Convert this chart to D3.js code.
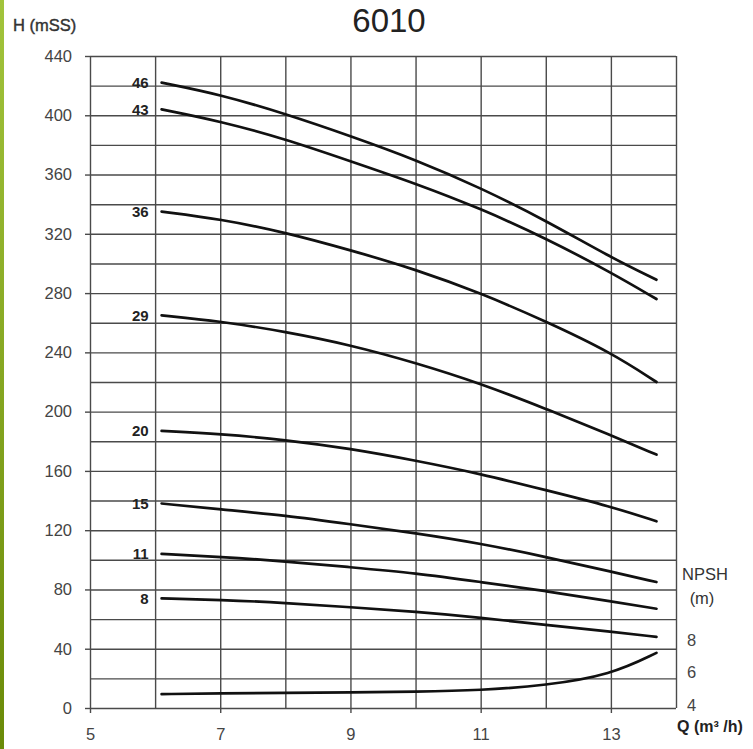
<!DOCTYPE html>
<html>
<head>
<meta charset="utf-8">
<script src="https://cdn.jsdelivr.net/npm/d3@7"></script>
<style>
  body { margin: 0; background: #fff; }
  text { font-family: "Liberation Sans", Arial, sans-serif; }
</style>
</head>
<body>
<div id="chart"></div>
<script>
// Dados
const qPoints = [6.1, 7, 8, 9, 10, 11, 12, 13, 13.7];
const stages = [46, 43, 36, 29, 20, 15, 11, 8];
const head46 = [422, 414, 401, 386, 370, 351, 329, 304, 289];
const head43 = [404, 396, 384, 369, 354, 337, 317, 294, 276];
const head36 = [335, 330, 321, 309, 296, 280, 261, 240, 220];
const head29 = [265, 261, 254, 245, 233, 219, 202, 184, 171];
const head20 = [187, 185, 181, 175, 167, 158, 147, 136, 126];
const head15 = [138, 134, 130, 124, 118, 111, 102, 92, 85];
const head11 = [104, 102, 99, 95, 91, 85, 79, 72, 67];
const head8 = [74, 73, 71, 68, 65, 61, 56, 51.5, 48];
const npsh = [4.67, 4.72, 4.75, 4.78, 4.82, 4.9, 5.2, 5.85, 7.2];
const heads = [head46, head43, head36, head29, head20, head15, head11, head8];

const yTicks = [0, 40, 80, 120, 160, 200, 240, 280, 320, 360, 400, 440];
const xTicks = [5, 7, 9, 11, 13];
const npshTicks = [4, 6, 8];

// Configurações
const W = 753, H = 749;
const margin = { top: 56, right: 77, bottom: 41, left: 90 };
const width = W - margin.left - margin.right;
const height = H - margin.top - margin.bottom;

const root = d3.select("#chart").append("svg")
    .attr("width", W)
    .attr("height", H);

// barra verde à esquerda
const grad = root.append("defs").append("linearGradient")
    .attr("id", "green").attr("x1", 0).attr("y1", 0).attr("x2", 0).attr("y2", 1);
grad.append("stop").attr("offset", "0%").attr("stop-color", "#a2c43c");
grad.append("stop").attr("offset", "100%").attr("stop-color", "#6a8a08");
root.append("rect").attr("x", 0).attr("y", 0).attr("width", 4).attr("height", H)
    .attr("fill", "url(#green)");

const svg = root.append("g")
    .attr("transform", `translate(${margin.left},${margin.top})`);

// Escalas
const x = d3.scaleLinear().domain([5, 14]).range([0, width]);
const y = d3.scaleLinear().domain([0, 440]).range([height, 0]);
const y2 = d3.scaleLinear().domain([4, 8]).range([y(2), y(46)]);

// Grade
const gridColor = "#4a4a4a";
svg.append("g")
    .call(d3.axisLeft(y).tickValues(d3.range(0, 441, 20)).tickSize(-width).tickFormat(""))
    .call(g => g.select(".domain").remove())
    .selectAll("line").attr("stroke", gridColor).attr("stroke-width", 1.4);
svg.append("g")
    .attr("transform", `translate(0,${height})`)
    .call(d3.axisBottom(x).tickValues(d3.range(5, 14.01, 1)).tickSize(height).tickFormat(""))
    .call(g => g.select(".domain").remove())
    .selectAll("line").attr("stroke", gridColor).attr("stroke-width", 1.4)
    .attr("y2", -height);

// Eixos
svg.append("g")
    .call(d3.axisLeft(y).tickValues(yTicks).tickSize(5).tickPadding(13))
    .call(g => g.select(".domain").remove())
    .call(g => g.selectAll("line").attr("stroke", gridColor).attr("stroke-width", 1.4))
    .call(g => g.selectAll("text").attr("fill", "#444").style("font-size", "16.5px"));

svg.append("g")
    .attr("transform", `translate(0,${height})`)
    .call(d3.axisBottom(x).tickValues(xTicks).tickSize(5).tickPadding(15))
    .call(g => g.select(".domain").remove())
    .call(g => g.selectAll("line").attr("stroke", gridColor).attr("stroke-width", 1.4))
    .call(g => g.selectAll("text").attr("fill", "#444").style("font-size", "16.5px"));

svg.append("g")
    .attr("transform", `translate(${width},0)`)
    .call(d3.axisRight(y2).tickValues(npshTicks).tickSize(0).tickPadding(11).tickFormat(d3.format("d")))
    .call(g => g.select(".domain").remove())
    .call(g => g.selectAll("text").attr("fill", "#444").style("font-size", "16.5px"));

// Curvas
const line = d3.line()
    .x((d, i) => x(qPoints[i]))
    .y(d => y(d))
    .curve(d3.curveBasis);

heads.forEach((h, k) => {
    svg.append("path")
        .datum(h)
        .attr("fill", "none")
        .attr("stroke", "#111")
        .attr("stroke-width", 2.7)
        .attr("stroke-linecap", "round")
        .attr("d", line);
    svg.append("text")
        .attr("x", x(qPoints[0]) - 13)
        .attr("y", y(h[0]))
        .attr("dy", "0.36em")
        .attr("text-anchor", "end")
        .style("font-size", "15px")
        .style("font-weight", "bold")
        .attr("fill", "#222")
        .text(stages[k]);
});

const npshLine = d3.line()
    .x((d, i) => x(qPoints[i]))
    .y(d => y2(d))
    .curve(d3.curveBasis);
svg.append("path")
    .datum(npsh)
    .attr("fill", "none")
    .attr("stroke", "#111")
    .attr("stroke-width", 2.7)
    .attr("stroke-linecap", "round")
    .attr("d", npshLine);

// Textos
root.append("text").attr("x", 389).attr("y", 32).attr("text-anchor", "middle")
    .style("font-size", "33px").attr("fill", "#222").text("6010");
root.append("text").attr("x", 13).attr("y", 31)
    .style("font-size", "16.5px").attr("fill", "#333").attr("stroke", "#333").attr("stroke-width", 0.4)
    .text("H (mSS)");
root.append("text").attr("x", 682).attr("y", 580)
    .style("font-size", "16.5px").attr("fill", "#333").text("NPSH");
root.append("text").attr("x", 702).attr("y", 604).attr("text-anchor", "middle")
    .style("font-size", "16.5px").attr("fill", "#333").text("(m)");
root.append("text").attr("x", 677).attr("y", 732)
    .style("font-size", "16px").style("font-weight", "bold").attr("fill", "#222")
    .text("Q (m³ /h)");
</script>
</body>
</html>
